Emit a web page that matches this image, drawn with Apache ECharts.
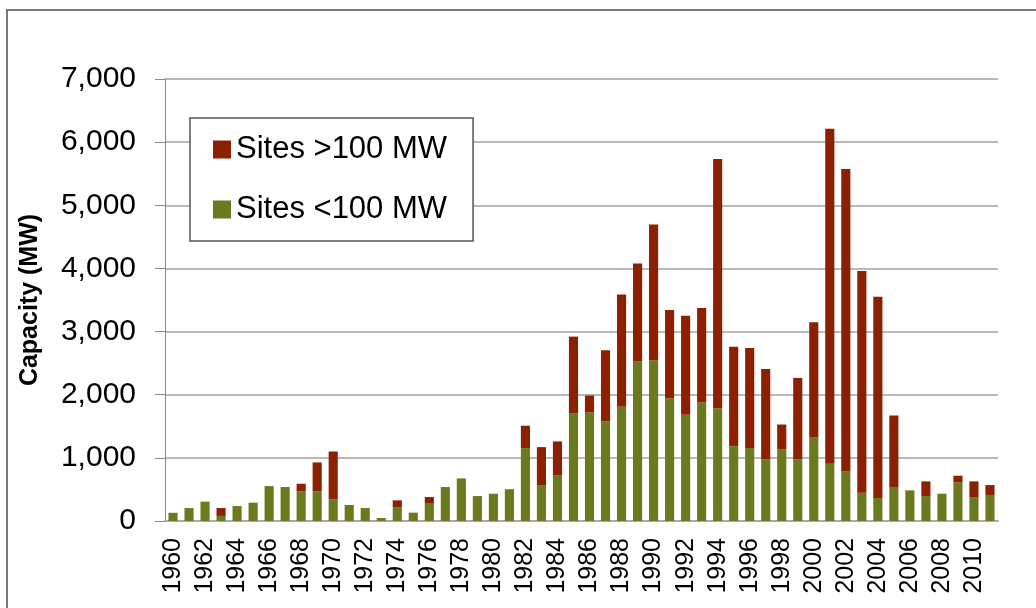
<!DOCTYPE html>
<html>
<head>
<meta charset="utf-8">
<title>Capacity (MW)</title>
<script src="https://cdn.jsdelivr.net/npm/echarts@6/dist/echarts.min.js"></script>
<style>
	html, body { margin: 0; padding: 0; background: #fff; }
	#main { width: 1036px; height: 608px; }
</style>
</head>
<body>
<div id="main"></div>
<script>
// 数据
var years = [];
for (var y = 1960; y <= 2011; y++) {
	years.push(String(y));
}
var smallSites = [130, 205, 306, 80, 237, 290, 553, 538, 469, 469,
	343, 253, 205, 47, 221, 132, 274, 538, 675, 395,
	432, 503, 1154, 569, 727, 1702, 1718, 1576, 1808, 2530,
	2545, 1945, 1681, 1876, 1787, 1186, 1154, 975, 1133, 975,
	1328, 906, 785, 448, 364, 538, 485, 395, 432, 611,
	379, 411];
var largeSites = [0, 0, 0, 125, 0, 0, 0, 0, 121, 459,
	758, 0, 0, 0, 106, 0, 105, 0, 0, 0,
	0, 0, 355, 601, 533, 1218, 269, 1128, 1781, 1549,
	2151, 1396, 1571, 1497, 3947, 1575, 1586, 1433, 395, 1291,
	1818, 5307, 4791, 3510, 3188, 1133, 0, 232, 0, 106,
	248, 158];
var yTicks = [0, 1000, 2000, 3000, 4000, 5000, 6000, 7000];

var red = '#8B2003';
var green = '#6B7A1F';
var fontName = 'Liberation Sans, Arial, sans-serif';

var myChart = echarts.init(document.getElementById('main'));
var option = {
	animation: false,
	textStyle: {
		fontFamily: fontName
	},
	grid: {
		left: 165,
		right: 38,
		top: 79,
		bottom: 87
	},
	legend: {
		orient: 'vertical',
		left: 190,
		top: 118,
		data: ['Sites >100 MW', 'Sites <100 MW'],
		icon: 'rect',
		itemWidth: 18,
		itemHeight: 18,
		itemGap: 29,
		padding: [16, 26, 16, 23],
		borderColor: '#555',
		borderWidth: 1.5,
		backgroundColor: '#fff',
		textStyle: {
			fontSize: 31,
			color: '#000',
			fontFamily: fontName
		}
	},
	xAxis: {
		type: 'category',
		data: years,
		axisLine: {
			lineStyle: {
				color: '#aaa',
				width: 2
			}
		},
		axisTick: {
			show: false
		},
		axisLabel: {
			interval: 1,
			rotate: 90,
			margin: 17,
			fontSize: 25,
			color: '#000'
		}
	},
	yAxis: {
		type: 'value',
		min: yTicks[0],
		max: yTicks[yTicks.length - 1],
		interval: 1000,
		name: 'Capacity (MW)',
		nameLocation: 'middle',
		nameGap: 122,
		nameTextStyle: {
			fontSize: 25,
			fontWeight: 'bold',
			color: '#000'
		},
		axisLine: {
			show: true,
			lineStyle: {
				color: '#888',
				width: 1
			}
		},
		axisTick: {
			show: true,
			length: 10,
			lineStyle: {
				color: '#888'
			}
		},
		axisLabel: {
			margin: 29,
			fontSize: 30,
			color: '#000',
			formatter: function(v) {
				return v.toLocaleString('en-US');
			}
		},
		splitLine: {
			lineStyle: {
				color: '#a0a0a0',
				width: 1.5
			}
		}
	},
	series: [{
		name: 'Sites <100 MW',
		type: 'bar',
		stack: 'cap',
		barWidth: '57%',
		data: smallSites,
		itemStyle: {
			color: green
		}
	}, {
		name: 'Sites >100 MW',
		type: 'bar',
		stack: 'cap',
		barWidth: '57%',
		data: largeSites,
		itemStyle: {
			color: red
		}
	}],
	graphic: [{
		type: 'rect',
		shape: {
			x: 7,
			y: 10,
			width: 1040,
			height: 610
		},
		style: {
			fill: 'none',
			stroke: '#777',
			lineWidth: 2
		},
		z: -1
	}]
};
myChart.setOption(option);
</script>
</body>
</html>
